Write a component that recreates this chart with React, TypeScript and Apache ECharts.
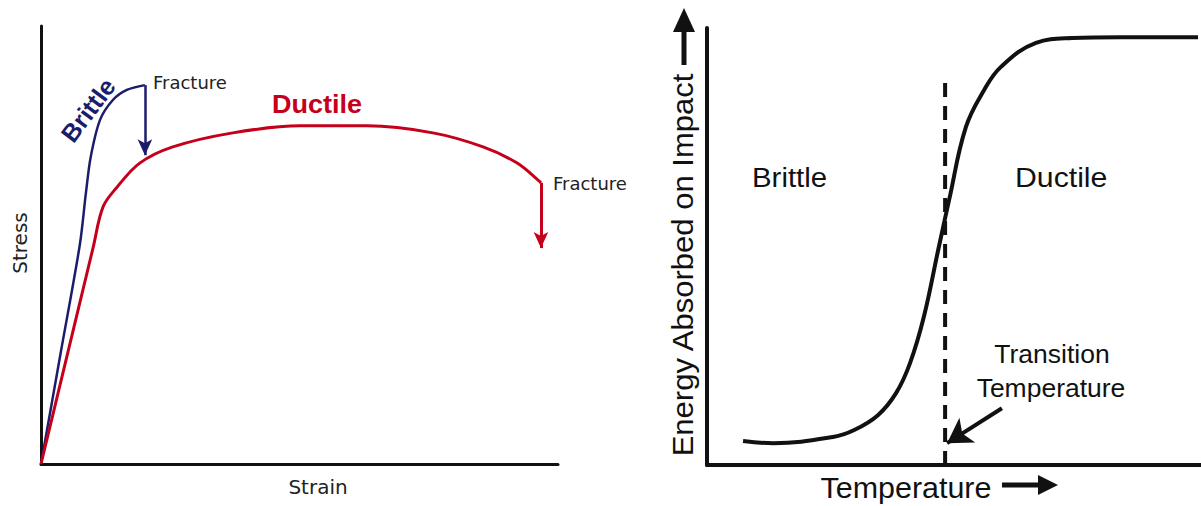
import React, { useEffect, useRef } from "react";
import * as echarts from "echarts";

// Left panel: stress–strain curves (arbitrary units 0–100)
const brittleStrain = [0, 3.75, 7.5, 8.7, 9.6, 11.4, 13.9, 16.6, 20.1];
const brittleStress = [0, 25, 50, 62, 70, 78.5, 83.1, 85.4, 86.5];
const brittleFractureEnd = 70.5;

const ductileStrain = [0, 5, 10.1, 12.0, 14.7, 19.1, 25.5, 37.1, 50.1, 63.1, 75.8, 85.5, 92.1, 96.7];
const ductileStress = [0, 24.5, 49.5, 58.7, 63.2, 68.7, 72.4, 75.6, 77.2, 77.2, 75.6, 72.4, 68.7, 64.2];
const ductileFractureEnd = 49.3;

// Right panel: impact energy vs temperature (arbitrary units 0–100)
const temperature = [7.3, 13.4, 25.5, 29.8, 34.6, 38.3, 41.1, 43.9, 46.8, 49.0, 52.4, 56.1, 59.5, 66.6, 73.9, 83.6, 99.4];
const energy = [5.5, 5.0, 6.4, 8.0, 11.4, 16.5, 23.3, 33.9, 49.2, 60.6, 77.3, 85.8, 91.1, 96.6, 97.7, 97.9, 97.9];
const transitionTemp = 48.2;
const transitionLineTop = 87.4;
const transitionArrowFrom = [59.7, 13.0];
const transitionArrowTo = [48.6, 5.0];

const NAVY = "#1c1c6c";
const RED = "#c4001a";
const INK = "#111111";

export default function App() {
  const ref = useRef<HTMLDivElement>(null);

  useEffect(() => {
    if (!ref.current) return;
    const chart = echarts.init(ref.current, undefined, { renderer: "svg" });

    const hiddenAxis = (gridIndex: number, width: number) => ({
      type: "value",
      gridIndex,
      min: 0,
      max: 100,
      axisLine: { show: true, onZero: false, lineStyle: { color: INK, width } },
      axisTick: { show: false },
      axisLabel: { show: false },
      splitLine: { show: false },
    });

    const option: any = {
      animation: false,
      backgroundColor: "#ffffff",
      grid: [
        { left: 41, top: 26, width: 517, height: 438 },
        { left: 707, top: 28, width: 494, height: 437 },
      ],
      xAxis: [hiddenAxis(0, 3), hiddenAxis(1, 4)],
      yAxis: [hiddenAxis(0, 3), hiddenAxis(1, 4)],
      series: [
        {
          name: "Brittle",
          type: "line",
          xAxisIndex: 0,
          yAxisIndex: 0,
          data: brittleStrain.map((x, i) => [x, brittleStress[i]]),
          smooth: 0.3,
          symbol: "none",
          lineStyle: { color: NAVY, width: 2.5 },
          markLine: {
            silent: true,
            symbol: ["none", "arrow"],
            symbolSize: [11, 16],
            label: { show: false },
            lineStyle: { color: NAVY, width: 2.5, type: "solid" },
            data: [
              [
                { coord: [brittleStrain[brittleStrain.length - 1], brittleStress[brittleStress.length - 1]] },
                { coord: [brittleStrain[brittleStrain.length - 1], brittleFractureEnd] },
              ],
            ],
          },
        },
        {
          name: "Ductile",
          type: "line",
          xAxisIndex: 0,
          yAxisIndex: 0,
          data: ductileStrain.map((x, i) => [x, ductileStress[i]]),
          smooth: 0.35,
          symbol: "none",
          lineStyle: { color: RED, width: 3 },
          markLine: {
            silent: true,
            symbol: ["none", "arrow"],
            symbolSize: [11, 16],
            label: { show: false },
            lineStyle: { color: RED, width: 3, type: "solid" },
            data: [
              [
                { coord: [ductileStrain[ductileStrain.length - 1], ductileStress[ductileStress.length - 1]] },
                { coord: [ductileStrain[ductileStrain.length - 1], ductileFractureEnd] },
              ],
            ],
          },
        },
        {
          name: "Energy",
          type: "line",
          xAxisIndex: 1,
          yAxisIndex: 1,
          data: temperature.map((x, i) => [x, energy[i]]),
          smooth: 0.4,
          symbol: "none",
          lineStyle: { color: INK, width: 4 },
        },
        {
          name: "Transition",
          type: "line",
          xAxisIndex: 1,
          yAxisIndex: 1,
          data: [
            [transitionTemp, 0],
            [transitionTemp, transitionLineTop],
          ],
          symbol: "none",
          lineStyle: { color: INK, width: 4, type: [14, 9] },
          markLine: {
            silent: true,
            symbol: ["none", "arrow"],
            symbolSize: [22, 24],
            label: { show: false },
            lineStyle: { color: INK, width: 4, type: "solid" },
            data: [[{ coord: transitionArrowFrom }, { coord: transitionArrowTo }]],
          },
        },
      ],
      graphic: [
        // Left panel texts
        {
          type: "text",
          x: 20,
          y: 243,
          rotation: Math.PI / 2,
          style: { text: "Stress", font: '20px "DejaVu Sans"', fill: "#222", align: "center", verticalAlign: "middle" },
        },
        {
          type: "text",
          x: 318,
          y: 487,
          style: { text: "Strain", font: '20px "DejaVu Sans"', fill: "#222", align: "center", verticalAlign: "middle" },
        },
        {
          type: "text",
          x: 153,
          y: 82,
          style: { text: "Fracture", font: '18px "DejaVu Sans"', fill: "#222", align: "left", verticalAlign: "middle" },
        },
        {
          type: "text",
          x: 553,
          y: 183,
          style: { text: "Fracture", font: '18px "DejaVu Sans"', fill: "#222", align: "left", verticalAlign: "middle" },
        },
        {
          type: "text",
          x: 272,
          y: 104,
          scaleX: 1.08,
          style: { text: "Ductile", font: 'bold 25px "Liberation Sans"', fill: RED, align: "left", verticalAlign: "middle" },
        },
        {
          type: "text",
          x: 88,
          y: 110,
          rotation: (53 * Math.PI) / 180,
          style: { text: "Brittle", font: 'bold 25px "Liberation Sans"', fill: NAVY, align: "center", verticalAlign: "middle" },
        },
        // Right panel texts
        {
          type: "text",
          x: 752,
          y: 177,
          scaleX: 1.05,
          style: { text: "Brittle", font: '28px "Liberation Sans"', fill: INK, align: "left", verticalAlign: "middle" },
        },
        {
          type: "text",
          x: 1015,
          y: 177,
          scaleX: 1.08,
          style: { text: "Ductile", font: '28px "Liberation Sans"', fill: INK, align: "left", verticalAlign: "middle" },
        },
        {
          type: "text",
          x: 1052,
          y: 354,
          scaleX: 1.06,
          style: { text: "Transition", font: '25px "Liberation Sans"', fill: INK, align: "center", verticalAlign: "middle" },
        },
        {
          type: "text",
          x: 1051,
          y: 388,
          scaleX: 1.06,
          style: { text: "Temperature", font: '25px "Liberation Sans"', fill: INK, align: "center", verticalAlign: "middle" },
        },
        {
          type: "text",
          x: 906,
          y: 488,
          scaleX: 1.05,
          style: { text: "Temperature", font: '29px "Liberation Sans"', fill: INK, align: "center", verticalAlign: "middle" },
        },
        {
          type: "text",
          x: 683,
          y: 265,
          rotation: Math.PI / 2,
          scaleX: 1.07,
          style: { text: "Energy Absorbed on Impact", font: '29px "Liberation Sans"', fill: INK, align: "center", verticalAlign: "middle" },
        },
        // axis-title arrows
        { type: "line", shape: { x1: 684, y1: 65, x2: 684, y2: 30 }, style: { stroke: INK, lineWidth: 5 } },
        { type: "polygon", shape: { points: [[673, 32], [695, 32], [684, 8]] }, style: { fill: INK } },
        { type: "line", shape: { x1: 1002, y1: 485, x2: 1040, y2: 485 }, style: { stroke: INK, lineWidth: 5 } },
        { type: "polygon", shape: { points: [[1038, 475], [1038, 495], [1058, 485]] }, style: { fill: INK } },
      ],
    };

    chart.setOption(option);
    return () => chart.dispose();
  }, []);

  return (
    <div
      ref={ref}
      style={{ position: "fixed", left: 0, top: 0, width: 1201, height: 506, background: "#fff" }}
    />
  );
}
